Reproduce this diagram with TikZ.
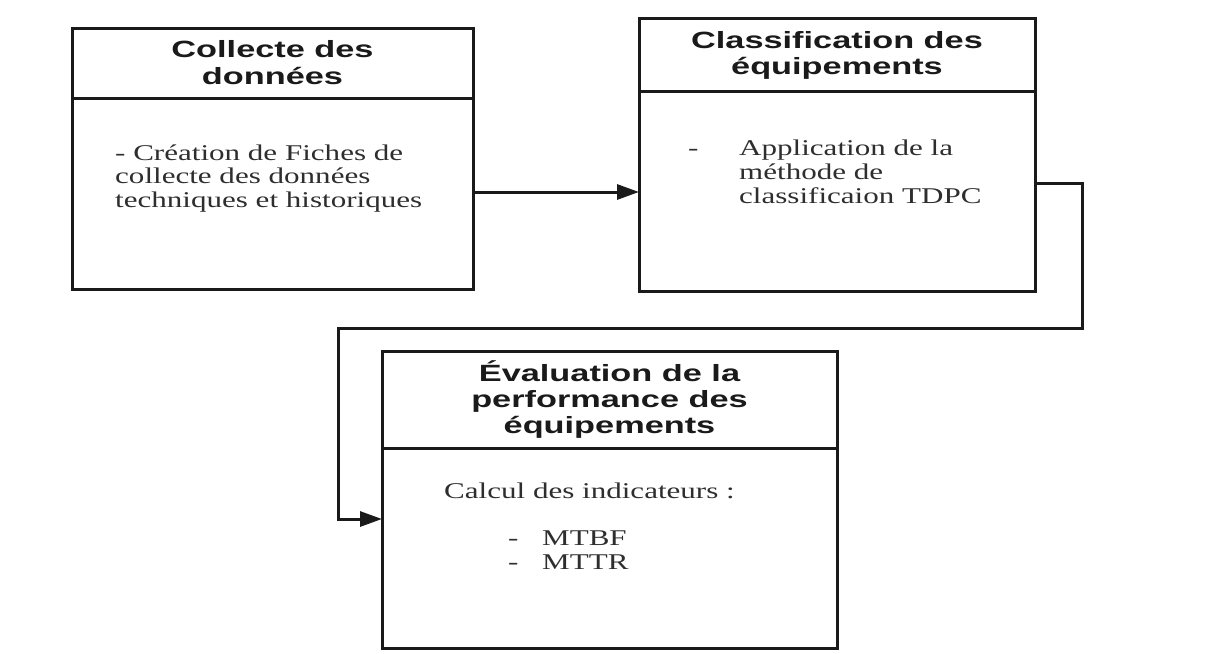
\documentclass[tikz,border=0pt]{standalone}
\usepackage{fontspec}
\setmainfont{Liberation Serif}[FakeStretch=1.38]
\newfontfamily\titlefont{Liberation Sans}[FakeStretch=1.46]
\usetikzlibrary{arrows.meta,calc}
\definecolor{ink}{HTML}{1A1A1A}
\definecolor{bodyink}{HTML}{2E2E2E}
\tikzset{
  box/.style={draw=ink, line width=3pt, inner sep=0pt, outer sep=0pt, anchor=north west},
  divider/.style={draw=ink, line width=3pt},
  ttl/.style={anchor=base, inner sep=0pt, text=ink, font=\titlefont\bfseries\fontsize{23.5}{27}\selectfont},
  bdy/.style={anchor=base west, inner sep=0pt, text=bodyink, font=\fontsize{22.5}{24}\selectfont},
  conn/.style={draw=ink, line width=3pt, -{Triangle[length=22pt,width=15pt]}}
}
\begin{document}
\begin{tikzpicture}[x=1pt,y=-1pt]
\useasboundingbox (0,0) rectangle (1209,653);
% boxes
\node[box, minimum width=401pt, minimum height=261pt] (b1) at (72,28) {};
\node[box, minimum width=396pt, minimum height=273pt] (b2) at (639,18) {};
\node[box, minimum width=455pt, minimum height=297pt] (b3) at (382,351) {};
% dividers
\draw[divider] (b1.west |- 0,98) -- (b1.east |- 0,98);
\draw[divider] (b2.west |- 0,91) -- (b2.east |- 0,91);
\draw[divider] (b3.west |- 0,448) -- (b3.east |- 0,448);
% titles
\node[ttl] (t1a) at (272.5,57.7) {Collecte des};
\node[ttl] (t1b) at (272.5,84.3) {données};
\node[ttl] (t2a) at (837,48.3) {Classification des};
\node[ttl] (t2b) at (837,74.3) {équipements};
\node[ttl] (t3a) at (609.5,381.7) {Évaluation de la};
\node[ttl] (t3b) at (609.5,407.5) {performance des};
\node[ttl] (t3c) at (609.5,433.3) {équipements};
% body texts
\node[bdy] (c1a) at (115,160) {- Création de Fiches de};
\node[bdy] (c1b) at (115,183.5) {collecte des données};
\node[bdy] (c1c) at (115,207) {techniques et historiques};
\node[bdy] (c2d) at (688,155.7) {-};
\node[bdy] (c2a) at (739,155.7) {Application de la};
\node[bdy] (c2b) at (739,179.4) {méthode de};
\node[bdy] (c2c) at (739,203.1) {classificaion TDPC};
\node[bdy] (c3a) at (444,498) {Calcul des indicateurs :};
\node[bdy] (c3d1) at (508,545) {-};
\node[bdy] (c3d2) at (508,569) {-};
\node[bdy] (c3b) at (542,545) {MTBF};
\node[bdy] (c3c) at (542,569) {MTTR};
% connectors
\coordinate (p1) at (b1.east |- 0,192);
\coordinate (q1) at (b2.west |- 0,192);
\draw[conn] (p1) -- (q1);
\coordinate (p2) at (b2.east |- 0,183);
\coordinate (k1) at (1082,183);
\coordinate (k2) at (1082,328);
\coordinate (k3) at (338,328);
\coordinate (k4) at (338,519);
\coordinate (q2) at (b3.west |- 0,519);
\draw[conn] (p2) -- (k1) -- (k2) -- (k3) -- (k4) -- (q2);
\end{tikzpicture}
\end{document}
